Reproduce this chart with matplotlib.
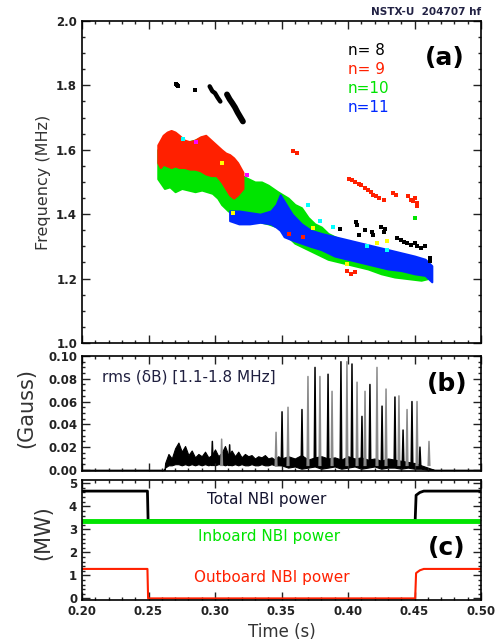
import numpy as np
import matplotlib
matplotlib.use("Agg")
import matplotlib.pyplot as plt
from matplotlib.ticker import MultipleLocator, FormatStrFormatter

# ---- panel (a): mode bands (time [s], freq [MHz])
n10_t = [0.257, 0.262, 0.266, 0.270, 0.275, 0.280, 0.285, 0.290, 0.294, 0.298, 0.302, 0.305,
         0.310, 0.315, 0.320, 0.325, 0.330, 0.335, 0.340, 0.347, 0.355, 0.360, 0.365, 0.370,
         0.375, 0.380, 0.385, 0.395, 0.405, 0.415, 0.425, 0.435, 0.445, 0.455, 0.460]
n10_hi = [1.60, 1.625, 1.62, 1.63, 1.62, 1.625, 1.63, 1.64, 1.63, 1.62, 1.59, 1.57,
          1.55, 1.54, 1.52, 1.51, 1.50, 1.50, 1.49, 1.47, 1.45, 1.43, 1.42, 1.39,
          1.37, 1.36, 1.34, 1.32, 1.31, 1.30, 1.29, 1.28, 1.27, 1.26, 1.24]
n10_lo = [1.51, 1.48, 1.485, 1.47, 1.48, 1.475, 1.47, 1.475, 1.47, 1.465, 1.45, 1.43,
          1.41, 1.40, 1.39, 1.385, 1.38, 1.375, 1.37, 1.36, 1.33, 1.31, 1.30, 1.29,
          1.28, 1.27, 1.26, 1.25, 1.24, 1.23, 1.215, 1.205, 1.20, 1.195, 1.20]

n11_t = [0.311, 0.318, 0.326, 0.334, 0.342, 0.346, 0.349, 0.352, 0.358, 0.365, 0.372, 0.380,
         0.390, 0.400, 0.410, 0.420, 0.430, 0.440, 0.450, 0.458, 0.463]
n11_hi = [1.41, 1.41, 1.405, 1.40, 1.41, 1.43, 1.46, 1.44, 1.40, 1.37, 1.35, 1.34,
          1.33, 1.32, 1.31, 1.30, 1.29, 1.28, 1.27, 1.26, 1.24]
n11_lo = [1.38, 1.37, 1.37, 1.375, 1.37, 1.36, 1.35, 1.33, 1.32, 1.31, 1.30, 1.29,
          1.27, 1.26, 1.25, 1.24, 1.23, 1.225, 1.215, 1.21, 1.19]

n9_t = [0.257, 0.259, 0.261, 0.264, 0.267, 0.270, 0.273, 0.277, 0.281, 0.285, 0.289, 0.293,
        0.297, 0.301, 0.305, 0.308, 0.311, 0.314, 0.317, 0.321]
n9_hi = [1.615, 1.63, 1.645, 1.655, 1.66, 1.655, 1.645, 1.63, 1.625, 1.63, 1.64, 1.645,
         1.63, 1.615, 1.60, 1.59, 1.585, 1.575, 1.56, 1.53]
n9_lo = [1.56, 1.545, 1.555, 1.55, 1.545, 1.55, 1.545, 1.545, 1.54, 1.54, 1.535, 1.525,
         1.52, 1.52, 1.50, 1.48, 1.46, 1.45, 1.46, 1.48]

# n=8 streaks and scattered points
n8_s1_t = [0.2960, 0.2980, 0.3000, 0.3020, 0.3040]
n8_s1_f = [1.797, 1.782, 1.776, 1.762, 1.750]
n8_s2_t = [0.3090, 0.3110, 0.3130, 0.3150, 0.3170, 0.3190, 0.3210]
n8_s2_f = [1.772, 1.757, 1.745, 1.732, 1.716, 1.702, 1.688]
n8_t = [0.2705, 0.2715, 0.2725, 0.285,
        0.394, 0.406, 0.407, 0.408, 0.413, 0.418, 0.419, 0.425, 0.427, 0.428, 0.437, 0.440,
        0.442, 0.444, 0.447, 0.450, 0.452, 0.455, 0.458, 0.462, 0.462]
n8_f = [1.803, 1.800, 1.798, 1.786,
        1.355, 1.375, 1.365, 1.335, 1.350, 1.345, 1.335, 1.360, 1.345, 1.355, 1.325, 1.320,
        1.315, 1.310, 1.305, 1.310, 1.300, 1.295, 1.300, 1.265, 1.255]
n9_pt_t = [0.359, 0.362, 0.401, 0.403, 0.405, 0.408, 0.410, 0.413, 0.415, 0.417, 0.419, 0.421,
           0.423, 0.427, 0.434, 0.436, 0.445, 0.447, 0.449, 0.450, 0.452, 0.452,
           0.399, 0.402, 0.405, 0.356, 0.366]
n9_pt_f = [1.595, 1.590, 1.510, 1.505, 1.500, 1.495, 1.490, 1.480, 1.475, 1.470, 1.460, 1.455,
           1.450, 1.445, 1.465, 1.460, 1.455, 1.445, 1.440, 1.450, 1.435, 1.425,
           1.225, 1.215, 1.220, 1.340, 1.330]
n10_pt_t = [0.4504]
n10_pt_f = [1.388]
cyan_t = [0.276, 0.370, 0.379, 0.389, 0.414, 0.429]
cyan_f = [1.634, 1.430, 1.380, 1.360, 1.300, 1.290]
yel_t = [0.305, 0.3136, 0.374, 0.422, 0.429, 0.399]
yel_f = [1.560, 1.403, 1.357, 1.310, 1.317, 1.246]
mag_t = [0.286, 0.324]
mag_f = [1.625, 1.523]

# ---- panel (b): rms(dB) envelope + bursts
rms_t = [0.200, 0.2620,
         0.2625, 0.2650, 0.2675, 0.2700, 0.2725, 0.2750, 0.2775, 0.2800, 0.2825, 0.2850,
         0.2875, 0.2900, 0.2925, 0.2950, 0.2975, 0.3000, 0.3025, 0.3050, 0.3075, 0.3100,
         0.3125, 0.3150, 0.3175, 0.3200, 0.3225, 0.3250, 0.3275, 0.3300, 0.3325, 0.3350,
         0.3375, 0.3400, 0.3425, 0.3450, 0.3475, 0.3500,
         0.355, 0.360, 0.365, 0.370, 0.375, 0.380, 0.385, 0.390, 0.395, 0.400, 0.405, 0.410,
         0.415, 0.420, 0.425, 0.430, 0.435, 0.440, 0.445, 0.450, 0.455, 0.460, 0.465, 0.500]
rms_hi = [0.0, 0.0,
          0.006, 0.014, 0.010, 0.019, 0.024, 0.016, 0.021, 0.013, 0.017, 0.011,
          0.014, 0.012, 0.016, 0.011, 0.013, 0.018, 0.012, 0.015, 0.021, 0.013,
          0.017, 0.012, 0.016, 0.011, 0.014, 0.012, 0.013, 0.010, 0.012, 0.011,
          0.013, 0.010, 0.011, 0.009, 0.012, 0.010,
          0.012, 0.010, 0.013, 0.009, 0.011, 0.012, 0.010, 0.011, 0.009, 0.012, 0.010, 0.011,
          0.009, 0.010, 0.008, 0.010, 0.009, 0.008, 0.007, 0.006, 0.004, 0.002, 0.0, 0.0]
rms_lo = [0.0, 0.0,
          0.002, 0.004, 0.004, 0.005, 0.005, 0.004, 0.005, 0.004, 0.005, 0.004,
          0.005, 0.004, 0.005, 0.004, 0.005, 0.004, 0.005, 0.005, 0.004, 0.005,
          0.004, 0.005, 0.004, 0.005, 0.004, 0.004, 0.005, 0.004, 0.004, 0.005,
          0.004, 0.004, 0.005, 0.004, 0.004, 0.004,
          0.002, 0.003, 0.001, 0.002, 0.003, 0.001, 0.002, 0.003, 0.001, 0.002, 0.003, 0.001,
          0.002, 0.003, 0.001, 0.002, 0.002, 0.001, 0.002, 0.001, 0.001, 0.0, 0.0, 0.0]
spike_t = [0.2980, 0.3050, 0.3110, 0.3459, 0.3504, 0.3549, 0.3654, 0.3699, 0.3752, 0.3789,
           0.3850, 0.3880, 0.3947, 0.3992, 0.4030, 0.4068, 0.4105, 0.4128, 0.4165, 0.4218,
           0.4256, 0.4286, 0.4353, 0.4383, 0.4414, 0.4444, 0.4481, 0.4519, 0.4541, 0.4609]
spike_h = [0.025, 0.027, 0.022, 0.033, 0.051, 0.055, 0.053, 0.082, 0.090, 0.082,
           0.084, 0.069, 0.095, 0.095, 0.093, 0.077, 0.047, 0.069, 0.075, 0.090,
           0.056, 0.071, 0.064, 0.065, 0.035, 0.053, 0.060, 0.060, 0.020, 0.025]

# ---- panel (c): NBI power [MW]
nbi_t = [0.200, 0.2492, 0.2497, 0.4505, 0.4512, 0.4540, 0.4570, 0.500]
outb_p = [1.28, 1.28, 0.00, 0.00, 1.10, 1.22, 1.28, 1.28]
inb_p = [3.38, 3.38, 3.38, 3.38, 3.38, 3.38, 3.38, 3.38]
tot_p = list(np.array(inb_p) + np.array(outb_p))

RED = '#ff2000'
GREEN = '#00e400'
BLUE = '#0028ff'

fig = plt.figure(figsize=(5, 6.44), dpi=100)
ax_a = fig.add_axes([0.164, 0.4674, 0.798, 0.500])
ax_b = fig.add_axes([0.164, 0.2686, 0.798, 0.1786])
ax_c = fig.add_axes([0.164, 0.0683, 0.798, 0.1863])


def style(ax, ymaj, ymin):
    ax.set_xlim(0.2, 0.5)
    ax.xaxis.set_major_locator(MultipleLocator(0.05))
    ax.xaxis.set_minor_locator(MultipleLocator(0.01))
    ax.yaxis.set_major_locator(MultipleLocator(ymaj))
    ax.yaxis.set_minor_locator(MultipleLocator(ymin))
    ax.tick_params(which='both', direction='in', top=True, right=True, width=1.0,
                   labelsize=8.5, colors='#222222')
    ax.tick_params(which='major', length=5.5)
    ax.tick_params(which='minor', length=2.5)
    for lab in ax.get_xticklabels() + ax.get_yticklabels():
        lab.set_fontweight('bold')
    for sp in ax.spines.values():
        sp.set_linewidth(1.2)


# (a)
ax_a.fill_between(n10_t, n10_lo, n10_hi, color=GREEN, lw=1.5, edgecolor=GREEN)
ax_a.fill_between(n11_t, n11_lo, n11_hi, color=BLUE, lw=1.5, edgecolor=BLUE)
ax_a.fill_between(n9_t, n9_lo, n9_hi, color=RED, lw=1.5, edgecolor=RED)
ax_a.plot(n8_s1_t, n8_s1_f, color='black', lw=3.2, solid_capstyle='round')
ax_a.plot(n8_s2_t, n8_s2_f, color='black', lw=4.2, solid_capstyle='round')
ax_a.scatter(n8_t, n8_f, s=9, marker='s', color='black', lw=0)
ax_a.scatter(n9_pt_t, n9_pt_f, s=7, marker='s', color=RED, lw=0)
ax_a.scatter(n10_pt_t, n10_pt_f, s=7, marker='s', color=GREEN, lw=0)
ax_a.scatter(cyan_t, cyan_f, s=7, marker='s', color='cyan', lw=0)
ax_a.scatter(yel_t, yel_f, s=7, marker='s', color='yellow', lw=0)
ax_a.scatter(mag_t, mag_f, s=5, marker='s', color='magenta', lw=0)
ax_a.set_ylim(1.0, 2.0)
style(ax_a, 0.2, 0.05)
ax_a.yaxis.set_major_formatter(FormatStrFormatter('%.1f'))
ax_a.set_xticklabels([])
ax_a.set_ylabel('Frequency (MHz)', fontsize=11.5, color='#333333', labelpad=4)
for lab, col, yv in [('n= 8', 'black', 1.908), ('n= 9', RED, 1.849),
                     ('n=10', GREEN, 1.791), ('n=11', BLUE, 1.732)]:
    ax_a.text(0.400, yv, lab, color=col, fontsize=11, va='center', ha='left')
ax_a.text(0.473, 1.886, '(a)', fontsize=18, fontweight='bold', ha='center', va='center')

# (b)
ax_b.fill_between(rms_t, rms_lo, rms_hi, color='black', lw=0.8)
st = np.array(spike_t)
sh = np.array(spike_h)
nan = np.full(len(st), np.nan)
base = np.full(len(st), 0.004)
for k, col in [(0, 'black'), (1, '#8a8a8a')]:
    xs = np.column_stack([st - 0.0006, st, st + 0.0006, nan])[k::2].ravel()
    ys = np.column_stack([base, sh, base, nan])[k::2].ravel()
    ax_b.plot(xs, ys, color=col, lw=1.1)
ax_b.set_ylim(-0.001, 0.1)
style(ax_b, 0.02, 0.005)
ax_b.yaxis.set_major_formatter(FormatStrFormatter('%.2f'))
ax_b.set_xticklabels([])
ax_b.text(0.215, 0.082, 'rms (\u03b4B) [1.1-1.8 MHz]', fontsize=11, color='#202040',
          va='center', ha='left')
ax_b.text(0.4745, 0.075, '(b)', fontsize=18, fontweight='bold', ha='center', va='center')

# (c)
ax_c.plot(nbi_t, tot_p, color='black', lw=2.0)
ax_c.plot(nbi_t, inb_p, color=GREEN, lw=3.5)
ax_c.plot(nbi_t, outb_p, color=RED, lw=1.5)
ax_c.set_ylim(-0.07, 5.14)
style(ax_c, 1, 0.2)
ax_c.xaxis.set_major_formatter(FormatStrFormatter('%.2f'))
for lab in ax_c.get_xticklabels():
    lab.set_fontweight('bold')
ax_c.text(0.339, 4.30, 'Total NBI power', fontsize=11, color='#151530', ha='center', va='center')
ax_c.text(0.341, 2.70, 'Inboard NBI power', fontsize=11, color=GREEN, ha='center', va='center')
ax_c.text(0.343, 0.90, 'Outboard NBI power', fontsize=11, color=RED, ha='center', va='center')
ax_c.text(0.4745, 2.19, '(c)', fontsize=18, fontweight='bold', ha='center', va='center')
ax_c.set_xlabel('Time (s)', fontsize=12, color='#333333', labelpad=4)

fig.text(0.052, 1 - 408 / 644, '(Gauss)', rotation=90, fontsize=15, color='#333333',
         ha='center', va='center')
fig.text(0.086, 1 - 533 / 644, '(MW)', rotation=90, fontsize=15, color='#333333',
         ha='center', va='center')
fig.text(0.962, 1 - 12 / 644, 'NSTX-U  204707 hf', fontsize=7.5, fontweight='bold',
         color='#222244', ha='right', va='center')

fig.savefig('out.png', dpi=100)
